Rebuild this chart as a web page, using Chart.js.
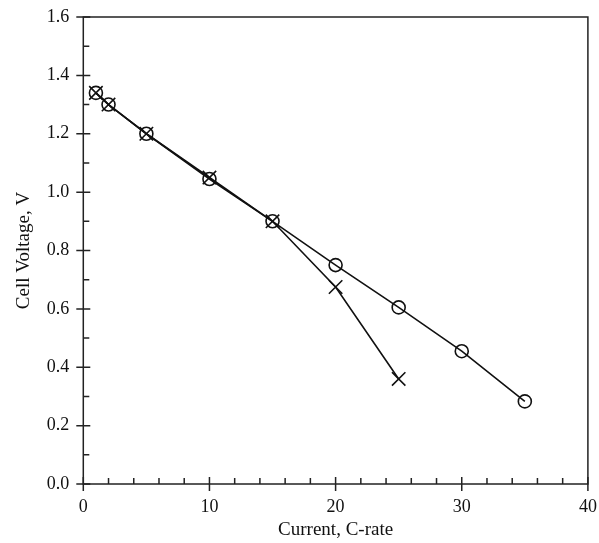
<!DOCTYPE html>
<html>
<head>
<meta charset="utf-8">
<script src="https://cdn.jsdelivr.net/npm/chart.js@4/dist/chart.umd.min.js"></script>
<style>
  html, body { margin: 0; padding: 0; background: #fff; }
  #wrap { width: 599px; height: 543px; }
</style>
</head>
<body>
<div id="wrap"><canvas id="chart" width="599" height="543"></canvas></div>
<script>
// C-rate values
const currentCircle = [1, 2, 5, 10, 15, 20, 25, 30, 35];
const voltageCircle = [1.34, 1.30, 1.20, 1.045, 0.90, 0.75, 0.605, 0.455, 0.283];
const currentCross = [1, 2, 5, 10, 15, 20, 25];
const voltageCross = [1.34, 1.30, 1.20, 1.05, 0.90, 0.675, 0.36];

const xMajor = [0, 10, 20, 30, 40];
const xMinor = [2, 4, 6, 8, 12, 14, 16, 18, 22, 24, 26, 28, 32, 34, 36, 38];
const yMajor = [0, 0.2, 0.4, 0.6, 0.8, 1.0, 1.2, 1.4, 1.6];
const yMinor = [0.1, 0.3, 0.5, 0.7, 0.9, 1.1, 1.3, 1.5];

const toPoints = (xs, ys) => xs.map((x, i) => ({ x: x, y: ys[i] }));

// frame + tick marks like the original plot
const frameTicks = {
  id: "frameTicks",
  afterDatasetsDraw(chart) {
    const ctx = chart.ctx;
    const a = chart.chartArea;
    const xs = chart.scales.x, ys = chart.scales.y;
    ctx.save();
    ctx.strokeStyle = "#222";
    ctx.lineWidth = 1.5;
    ctx.strokeRect(a.left, a.top, a.right - a.left, a.bottom - a.top);
    ctx.beginPath();
    xMajor.forEach(v => {
      const p = xs.getPixelForValue(v);
      ctx.moveTo(p, a.bottom - 7); ctx.lineTo(p, a.bottom + 7);
    });
    xMinor.forEach(v => {
      const p = xs.getPixelForValue(v);
      ctx.moveTo(p, a.bottom - 6); ctx.lineTo(p, a.bottom);
    });
    yMajor.forEach(v => {
      const p = ys.getPixelForValue(v);
      ctx.moveTo(a.left - 7, p); ctx.lineTo(a.left + 7, p);
    });
    yMinor.forEach(v => {
      const p = ys.getPixelForValue(v);
      ctx.moveTo(a.left, p); ctx.lineTo(a.left + 6, p);
    });
    ctx.stroke();
    ctx.restore();
  }
};

// invisible grid ticks only reserve the gap between axis and labels
const hiddenGrid = len => ({
  display: true,
  drawOnChartArea: false,
  drawTicks: true,
  tickLength: len,
  color: "rgba(0,0,0,0)"
});

new Chart(document.getElementById("chart"), {
  type: "scatter",
  data: {
    datasets: [
      {
        label: "circle",
        data: toPoints(currentCircle, voltageCircle),
        showLine: true,
        borderColor: "#111",
        borderWidth: 1.6,
        pointStyle: "circle",
        pointRadius: 6.5,
        pointBorderWidth: 1.6,
        pointBackgroundColor: "rgba(0,0,0,0)",
        pointBorderColor: "#111"
      },
      {
        label: "cross",
        data: toPoints(currentCross, voltageCross),
        showLine: true,
        borderColor: "#111",
        borderWidth: 1.6,
        pointStyle: "crossRot",
        pointRadius: 9.5,
        pointBorderWidth: 1.6,
        pointBorderColor: "#111"
      }
    ]
  },
  options: {
    responsive: false,
    animation: false,
    layout: { padding: { left: 13, right: 0, top: 17, bottom: 3 } },
    plugins: { legend: { display: false }, tooltip: { enabled: false } },
    scales: {
      x: {
        type: "linear",
        min: 0, max: 40,
        grid: hiddenGrid(14),
        border: { display: false },
        ticks: {
          stepSize: 10,
          padding: 0,
          color: "#111",
          font: { family: "Liberation Serif", size: 18, lineHeight: 1 }
        },
        title: {
          display: true,
          text: "Current, C-rate",
          color: "#111",
          font: { family: "Liberation Serif", size: 19, lineHeight: 1 },
          padding: { top: 5, bottom: 0 }
        }
      },
      y: {
        type: "linear",
        min: 0, max: 1.6,
        grid: hiddenGrid(14),
        border: { display: false },
        ticks: {
          stepSize: 0.2,
          padding: 0,
          color: "#111",
          font: { family: "Liberation Serif", size: 18 },
          callback: v => Number(v).toFixed(1)
        },
        title: {
          display: true,
          text: "Cell Voltage, V",
          color: "#111",
          font: { family: "Liberation Serif", size: 19 },
          padding: { top: 0, bottom: 11 }
        }
      }
    }
  },
  plugins: [frameTicks]
});
</script>
</body>
</html>
